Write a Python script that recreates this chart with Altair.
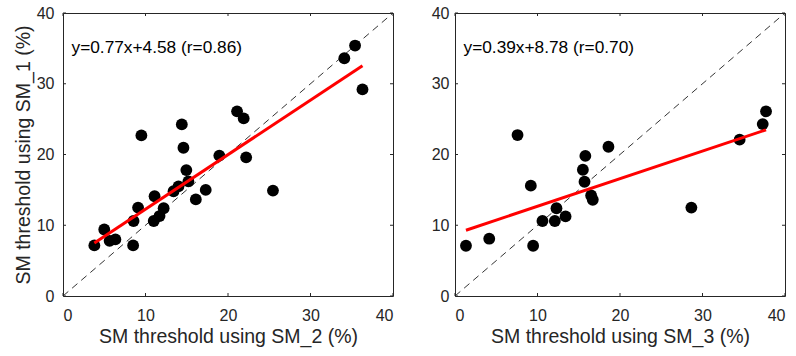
import altair as alt
import pandas as pd

# ---- data ----
tick_vals = [0, 10, 20, 30, 40]

x_sm2 = [3.8, 5.0, 5.65, 6.35, 8.5, 8.55, 9.1, 9.5, 11.0, 11.1, 11.7, 12.2, 13.4, 14.0,
         14.4, 14.6, 14.95, 15.2, 16.1, 17.3, 18.95, 21.1, 21.9, 22.2, 25.45, 34.1, 35.4, 36.3]
y_sm1_a = [7.15, 9.4, 7.8, 8.0, 7.15, 10.6, 12.5, 22.7, 10.6, 14.1, 11.3, 12.4, 14.8, 15.5,
           24.25, 20.95, 17.8, 16.2, 13.65, 15.0, 19.85, 26.1, 25.1, 19.6, 14.9, 33.6, 35.4, 29.2]

x_sm3 = [1.33, 4.15, 7.58, 9.19, 9.47, 10.6, 12.1, 12.3, 13.4, 15.5, 15.7, 15.8, 16.5, 16.7,
         18.6, 28.65, 34.5, 37.3, 37.7]
y_sm1_b = [7.1, 8.1, 22.75, 15.6, 7.1, 10.6, 10.6, 12.4, 11.25, 17.85, 16.15, 19.8, 14.2, 13.6,
           21.1, 12.5, 22.1, 24.3, 26.1]

fit_a = (0.77, 4.58)
fit_b = (0.39, 8.78)
eq_a = "y=0.77x+4.58 (r=0.86)"
eq_b = "y=0.39x+8.78 (r=0.70)"
diag_ends = [0, 40]

FONT = "Liberation Sans"
W, H = 330, 283
INK = "#262626"


def panel(xs, ys, fit, eq, xtitle, ytitle, ylabpad):
    pts = pd.DataFrame({"x": xs, "y": ys})
    lo, hi = min(xs), max(xs)
    fitdf = pd.DataFrame({"x": [lo, hi], "y": [fit[0] * lo + fit[1], fit[0] * hi + fit[1]]})
    diag = pd.DataFrame({"x": diag_ends, "y": diag_ends})
    tx = pd.DataFrame({"x": tick_vals})
    ty = pd.DataFrame({"y": tick_vals})
    txt = pd.DataFrame({"t": [eq]})

    sc = alt.Scale(domain=[0, 40], nice=False, zero=False)
    xaxis = alt.Axis(values=tick_vals, title=xtitle, ticks=False, domain=False, grid=False,
                     labelPadding=11, titlePadding=4)
    if ytitle:
        yaxis = alt.Axis(values=tick_vals, title=ytitle, ticks=False, domain=False, grid=False,
                         labelPadding=ylabpad, titlePadding=3)
    else:
        yaxis = alt.Axis(values=tick_vals, title=None, ticks=False, domain=False, grid=False,
                         labelPadding=ylabpad)
    X = alt.X("x:Q", scale=sc, axis=xaxis)
    Y = alt.Y("y:Q", scale=sc, axis=yaxis)

    d = alt.Chart(diag).mark_line(color="black", strokeWidth=0.8, strokeDash=[7, 5]).encode(x=X, y=Y)
    p = alt.Chart(pts).mark_circle(color="black", opacity=1, size=140).encode(x=X, y=Y)
    f = alt.Chart(fitdf).mark_line(color="#ff0000", strokeWidth=3).encode(x=X, y=Y)
    t = alt.Chart(txt).mark_text(align="left", baseline="middle", font=FONT, fontSize=17.3,
                                 color="black").encode(x=alt.value(8.5), y=alt.value(35), text="t:N")
    tb = alt.Chart(tx).mark_rule(color=INK, strokeWidth=1).encode(x=X, y=alt.value(H), y2=alt.value(H - 3))
    tt = alt.Chart(tx).mark_rule(color=INK, strokeWidth=1).encode(x=X, y=alt.value(0), y2=alt.value(3))
    tl = alt.Chart(ty).mark_rule(color=INK, strokeWidth=1).encode(y=Y, x=alt.value(0), x2=alt.value(3))
    tr = alt.Chart(ty).mark_rule(color=INK, strokeWidth=1).encode(y=Y, x=alt.value(W), x2=alt.value(W - 3))
    return alt.layer(d, p, f, t, tb, tt, tl, tr).properties(width=W, height=H)


left = panel(x_sm2, y_sm1_a, fit_a, eq_a, "SM threshold using SM_2 (%)", "SM threshold using SM_1 (%)", 9)
right = panel(x_sm3, y_sm1_b, fit_b, eq_b, "SM threshold using SM_3 (%)", None, 6)

chart = alt.hconcat(left, right, spacing=34).properties(
    padding={"left": 12, "top": 4, "right": 1, "bottom": 8}
).configure_view(stroke=INK, strokeWidth=1).configure_axis(
    labelFont=FONT, titleFont=FONT, labelFontSize=16, titleFontSize=19.5,
    labelColor=INK, titleColor=INK, titleFontWeight="normal"
)

chart.save("out.html", embed_options={"renderer": "svg", "actions": False})
